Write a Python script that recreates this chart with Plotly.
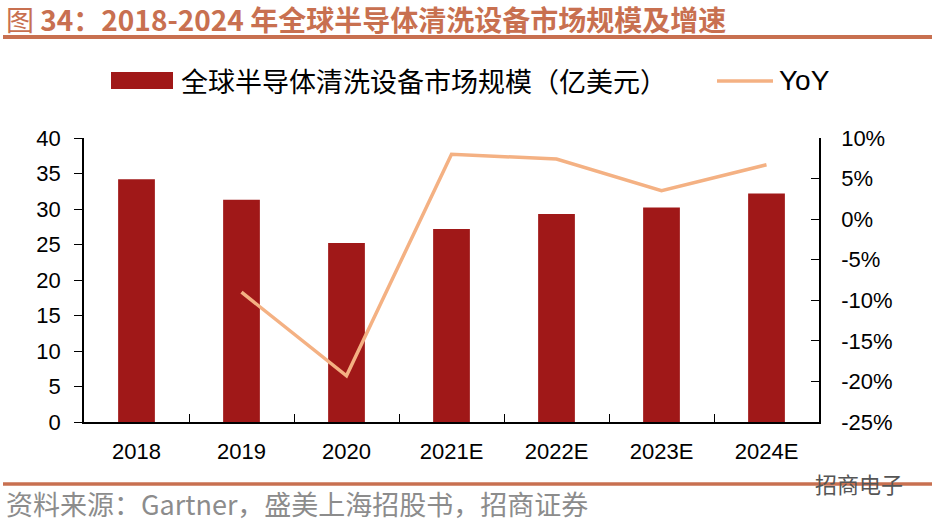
import plotly.graph_objects as go

years = ["2018", "2019", "2020", "2021E", "2022E", "2023E", "2024E"]
market_size = [34.2, 31.3, 25.2, 27.2, 29.3, 30.2, 32.2]  # 亿美元
yoy = [None, -9.0, -19.3, 8.0, 7.4, 3.5, 6.7]  # %

y2_ticks = [10, 5, 0, -5, -10, -15, -20, -25]
y2_labels = ["10%", "5%", "0%", "-5%", "-10%", "-15%", "-20%", "-25%"]

bar_color = "#A01818"
line_color = "#F4B183"
accent = "#C87050"
font_cn = "Noto Sans CJK SC"
font_num = "Liberation Sans"

# plot area in pixels (for placing the decorations around it)
W, H = 935, 524
L, R, T, B = 84, 819, 138, 422


def px_x(x):
    return (x - L) / (R - L)


def px_y(y):
    return (B - y) / (B - T)


fig = go.Figure()

fig.add_trace(go.Bar(
    x=years, y=market_size, name="全球半导体清洗设备市场规模（亿美元）",
    marker=dict(color=bar_color, line=dict(width=0)),
    width=0.35, showlegend=False,
))

fig.add_trace(go.Scatter(
    x=years, y=yoy, name="YoY", yaxis="y2", mode="lines",
    line=dict(color=line_color, width=3.5), showlegend=False,
))

shapes = [
    # title underline
    dict(type="line", xref="paper", yref="paper", x0=px_x(3), x1=px_x(932),
         y0=px_y(37), y1=px_y(37), line=dict(color=accent, width=4)),
    # bottom rule
    dict(type="line", xref="paper", yref="paper", x0=px_x(3), x1=px_x(932),
         y0=px_y(484), y1=px_y(484), line=dict(color=accent, width=3.5)),
    # legend swatches
    dict(type="rect", xref="paper", yref="paper", x0=px_x(111), x1=px_x(173),
         y0=px_y(89), y1=px_y(72), fillcolor=bar_color, line=dict(width=0)),
    dict(type="line", xref="paper", yref="paper", x0=px_x(717), x1=px_x(773),
         y0=px_y(81), y1=px_y(81), line=dict(color=line_color, width=3.5)),
]

annotations = [
    dict(text="图 <b>34：2018-2024 年全球半导体清洗设备市场规模及增速</b>",
         xref="paper", yref="paper", x=px_x(4), y=px_y(19), xanchor="left", yanchor="middle",
         showarrow=False, font=dict(family=font_cn, size=28, color=accent)),
    dict(text="全球半导体清洗设备市场规模（亿美元）",
         xref="paper", yref="paper", x=px_x(179), y=px_y(80), xanchor="left", yanchor="middle",
         showarrow=False, font=dict(family=font_cn, size=27, color="#000000")),
    dict(text="YoY",
         xref="paper", yref="paper", x=px_x(777), y=px_y(80), xanchor="left", yanchor="middle",
         showarrow=False, font=dict(family=font_num, size=28, color="#000000")),
    dict(text="资料来源：Gartner，盛美上海招股书，招商证券",
         xref="paper", yref="paper", x=px_x(4), y=px_y(503), xanchor="left", yanchor="middle",
         showarrow=False, font=dict(family=font_cn, size=27, color="#8C8C8C")),
    dict(text="招商电子",
         xref="paper", yref="paper", x=px_x(905), y=px_y(483), xanchor="right", yanchor="middle",
         showarrow=False, font=dict(family=font_cn, size=22, color="#555555")),
]

fig.update_layout(
    width=W, height=H,
    margin=dict(l=L, r=W - R, t=T, b=H - B, pad=0),
    paper_bgcolor="white", plot_bgcolor="white",
    font=dict(family=font_num, size=22, color="#000000"),
    bargap=0.65,
    shapes=shapes,
    annotations=annotations,
    xaxis=dict(
        type="category", showgrid=False, showline=True, linecolor="#000000", linewidth=1.5,
        ticks="inside", tickson="boundaries", ticklen=8, tickcolor="#000000",
        tickfont=dict(family=font_num, size=22), ticklabelstandoff=9,
    ),
    yaxis=dict(
        range=[0, 40], dtick=5, showgrid=False, zeroline=False, showline=True,
        linecolor="#000000", linewidth=1.5, ticks="outside", ticklen=8, tickcolor="#000000",
        tickfont=dict(family=font_num, size=22), ticklabelstandoff=9,
    ),
    yaxis2=dict(
        range=[-25, 10], tickvals=y2_ticks, ticktext=y2_labels, overlaying="y", side="right",
        showgrid=False, zeroline=False, showline=True, linecolor="#000000", linewidth=1.5,
        ticks="inside", ticklen=8, tickcolor="#000000",
        tickfont=dict(family=font_num, size=22), ticklabelstandoff=16,
    ),
)

fig.write_html("out.html", config={"displayModeBar": False},
               post_script="document.body.style.margin='0';")
